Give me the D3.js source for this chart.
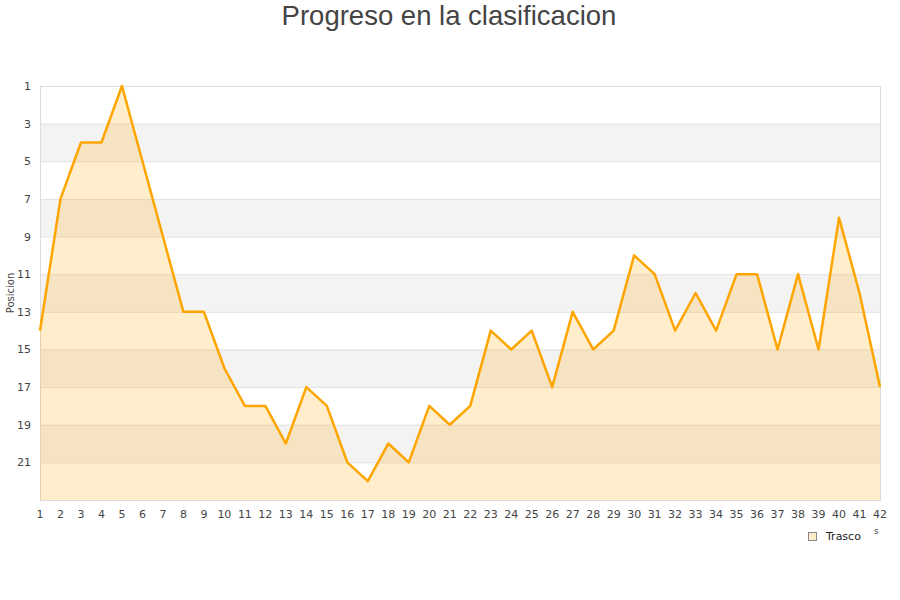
<!DOCTYPE html>
<html><head><meta charset="utf-8">
<script src="https://cdn.jsdelivr.net/npm/d3@7"></script>
<style>body{margin:0;background:#fff;} svg{display:block;}</style>
</head><body>
<script>
const jornadas = d3.range(1, 43);
const posiciones = [14,7,4,4,1,5,9,13,13,16,18,18,20,17,18,21,22,20,21,18,19,18,14,15,14,17,13,15,14,10,11,14,12,14,11,11,15,11,15,8,12,17];
const yTicks = [1,3,5,7,9,11,13,15,17,19,21];
const bands = [[3,5],[7,9],[11,13],[15,17],[19,21]];
const seriesName = "Trasco";
const titleText = "Progreso en la clasificacion";
const yTitle = "Posicion";

const W = 900, H = 600;
const m = {l:40, r:20, t:86, b:100};
const svg = d3.select("body").append("svg").attr("width", W).attr("height", H);
const x = d3.scaleLinear().domain([1, 42]).range([m.l, W - m.r]);
const y = d3.scaleLinear().domain([1, 23]).range([m.t, H - m.b]);

// bands
svg.append("g").selectAll("rect").data(bands).join("rect")
  .attr("x", x(1)).attr("width", x(42) - x(1))
  .attr("y", d => y(d[0])).attr("height", d => y(d[1]) - y(d[0]))
  .attr("fill", "#f3f3f3");
// grid lines
svg.append("g").selectAll("line").data(yTicks.concat([23])).join("line")
  .attr("x1", x(1)).attr("x2", x(42))
  .attr("y1", d => y(d) + 0.5).attr("y2", d => y(d) + 0.5)
  .attr("stroke", "#e2e2e2").attr("stroke-width", 1);
// frame
svg.append("rect").attr("x", x(1) + 0.5).attr("y", y(1) + 0.5)
  .attr("width", x(42) - x(1)).attr("height", y(23) - y(1))
  .attr("fill", "none").attr("stroke", "#dcdcdc");

const area = d3.area().x((d, i) => x(jornadas[i])).y0(y(23)).y1(d => y(d));
svg.append("path").datum(posiciones).attr("d", area)
  .attr("fill", "rgba(255,165,0,0.2)");
const line = d3.line().x((d, i) => x(jornadas[i])).y(d => y(d));
svg.append("path").datum(posiciones).attr("d", line)
  .attr("fill", "none").attr("stroke", "#ffa500").attr("stroke-width", 2.5)
  .attr("stroke-linejoin", "round");

// y axis labels
svg.append("g").selectAll("text").data(yTicks).join("text")
  .attr("x", 31).attr("y", d => y(d) + 4)
  .attr("text-anchor", "end")
  .attr("font-family", "DejaVu Sans").attr("font-size", 11).attr("fill", "#444")
  .text(d => d);
// x axis labels
svg.append("g").selectAll("text").data(jornadas).join("text")
  .attr("x", d => x(d)).attr("y", 518)
  .attr("text-anchor", "middle")
  .attr("font-family", "DejaVu Sans").attr("font-size", 11).attr("fill", "#444")
  .text(d => d);

// y title
svg.append("text").attr("transform", "translate(14,293) rotate(-90)")
  .attr("text-anchor", "middle")
  .attr("font-family", "DejaVu Sans").attr("font-size", 10).attr("fill", "#444")
  .text(yTitle);

// title
svg.append("text").attr("x", 449).attr("y", 25).attr("text-anchor", "middle")
  .attr("font-family", "Liberation Sans").attr("font-size", 27.5).attr("fill", "#444")
  .text(titleText);

// legend
svg.append("rect").attr("x", 808.5).attr("y", 532.5).attr("width", 8).attr("height", 8)
  .attr("fill", "#ffecc8").attr("stroke", "#888").attr("stroke-width", 1);
svg.append("text").attr("x", 826).attr("y", 540)
  .attr("font-family", "DejaVu Sans").attr("font-size", 11).attr("fill", "#222")
  .text(seriesName);
svg.append("text").attr("x", 874).attr("y", 534)
  .attr("font-family", "DejaVu Sans").attr("font-size", 9).attr("fill", "#444")
  .text("s");
</script>
</body></html>
